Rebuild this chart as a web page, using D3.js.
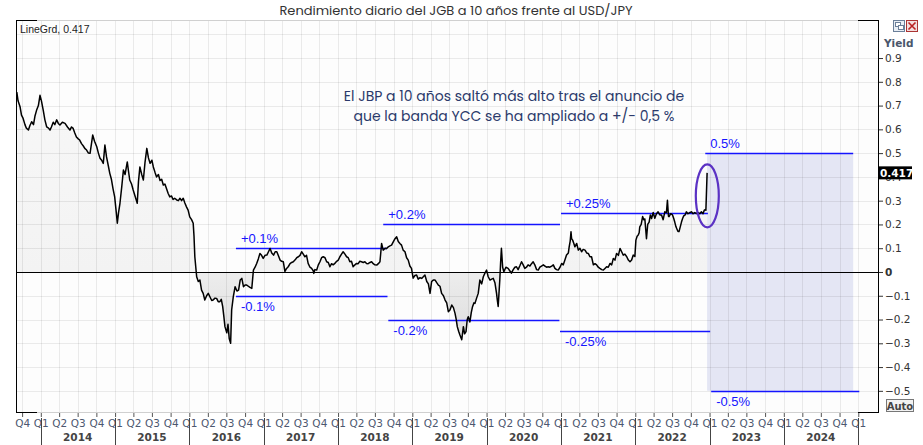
<!DOCTYPE html>
<html><head><meta charset="utf-8">
<script src="https://cdn.jsdelivr.net/npm/d3@7"></script>
<style>body{margin:0;background:#fff;}svg{display:block}</style>
</head><body><svg id="c" width="923" height="445"></svg>
<script>
// ---------------- data ----------------
const chartTitle = "Rendimiento diario del JGB a 10 años frente al USD/JPY";
const legendText = "LineGrd, 0.417";
const axisTitle = "Yield";
const noteLines = ["El JBP a 10 años saltó más alto tras el anuncio de", "que la banda YCC se ha ampliado a +/- 0,5 %"];
const yTicks = [-0.5, -0.4, -0.3, -0.2, -0.1, 0, 0.1, 0.2, 0.3, 0.4, 0.5, 0.6, 0.7, 0.8, 0.9];
const xDomain = ["2013-09-01", "2025-04-08"];
const yDomain = [-0.589, 1.06];
const lastValue = 0.417;
const yearLabels = ["2014","2015","2016","2017","2018","2019","2020","2021","2022","2023","2024"];

const jgb10y = [
["2013-09-05",0.757],["2013-09-11",0.72],["2013-09-21",0.695],["2013-09-28",0.66],["2013-10-06",0.646],["2013-10-15",0.62],["2013-10-22",0.605],["2013-11-01",0.597],["2013-11-08",0.615],["2013-11-17",0.632],["2013-11-26",0.62],["2013-12-03",0.655],["2013-12-11",0.68],["2013-12-20",0.70],["2013-12-28",0.743],
["2014-01-04",0.72],["2014-01-13",0.68],["2014-01-21",0.64],["2014-01-30",0.61],["2014-02-08",0.605],["2014-02-15",0.597],["2014-02-22",0.61],["2014-03-03",0.63],["2014-03-11",0.62],["2014-03-20",0.64],["2014-03-28",0.625],["2014-04-05",0.618],["2014-04-17",0.63],["2014-04-30",0.625],["2014-05-12",0.61],["2014-05-24",0.597],["2014-06-01",0.61],["2014-06-09",0.604],["2014-06-17",0.585],["2014-06-25",0.568],["2014-07-04",0.56],["2014-07-11",0.555],["2014-07-20",0.54],["2014-07-29",0.53],["2014-08-05",0.52],["2014-08-14",0.513],["2014-08-23",0.50],["2014-08-31",0.499],["2014-09-07",0.54],["2014-09-13",0.576],["2014-09-22",0.55],["2014-10-03",0.527],["2014-10-11",0.50],["2014-10-19",0.478],["2014-10-27",0.47],["2014-11-04",0.457],["2014-11-12",0.534],["2014-11-20",0.484],["2014-11-28",0.45],["2014-12-06",0.415],["2014-12-14",0.39],["2014-12-22",0.35],["2014-12-30",0.316],
["2015-01-07",0.25],["2015-01-12",0.205],["2015-01-18",0.25],["2015-01-25",0.289],["2015-02-03",0.36],["2015-02-11",0.429],["2015-02-19",0.41],["2015-03-02",0.463],["2015-03-07",0.43],["2015-03-14",0.387],["2015-03-23",0.37],["2015-03-31",0.345],["2015-04-09",0.32],["2015-04-20",0.289],["2015-04-26",0.38],["2015-05-03",0.442],["2015-05-12",0.41],["2015-05-20",0.387],["2015-05-28",0.46],["2015-06-06",0.52],["2015-06-14",0.48],["2015-06-22",0.457],["2015-07-01",0.47],["2015-07-08",0.442],["2015-07-16",0.42],["2015-07-24",0.40],["2015-08-02",0.41],["2015-08-10",0.385],["2015-08-18",0.39],["2015-08-26",0.366],["2015-09-03",0.37],["2015-09-11",0.35],["2015-09-19",0.33],["2015-09-27",0.316],["2015-10-05",0.32],["2015-10-13",0.305],["2015-10-21",0.31],["2015-10-31",0.303],["2015-11-08",0.30],["2015-11-16",0.31],["2015-11-24",0.30],["2015-12-02",0.31],["2015-12-10",0.29],["2015-12-18",0.274],["2015-12-26",0.26],
["2016-01-03",0.232],["2016-01-12",0.22],["2016-01-20",0.205],["2016-01-24",0.15],["2016-01-28",0.064],["2016-02-06",-0.02],["2016-02-14",-0.04],["2016-02-22",-0.034],["2016-03-01",-0.076],["2016-03-09",-0.09],["2016-03-17",-0.118],["2016-03-26",-0.10],["2016-04-03",-0.09],["2016-04-11",-0.104],["2016-04-20",-0.12],["2016-04-27",-0.118],["2016-05-06",-0.11],["2016-05-14",-0.111],["2016-05-22",-0.125],["2016-05-30",-0.125],["2016-06-06",-0.115],["2016-06-13",-0.146],["2016-06-19",-0.19],["2016-06-24",-0.23],["2016-07-03",-0.256],["2016-07-09",-0.22],["2016-07-15",-0.28],["2016-07-22",-0.30],["2016-07-27",-0.16],["2016-08-04",-0.105],["2016-08-13",-0.062],["2016-08-22",-0.08],["2016-08-30",-0.076],["2016-09-07",-0.034],["2016-09-15",-0.027],["2016-09-23",-0.062],["2016-10-01",-0.055],["2016-10-09",-0.055],["2016-10-17",-0.06],["2016-10-25",-0.065],["2016-11-03",-0.069],["2016-11-11",0.008],["2016-11-19",0.02],["2016-11-27",0.036],["2016-12-05",0.055],["2016-12-13",0.078],["2016-12-21",0.07],["2016-12-29",0.057],
["2017-01-07",0.07],["2017-01-16",0.071],["2017-01-24",0.085],["2017-02-01",0.099],["2017-02-09",0.08],["2017-02-18",0.071],["2017-02-26",0.085],["2017-03-06",0.085],["2017-03-13",0.07],["2017-03-22",0.05],["2017-03-30",0.045],["2017-04-07",0.043],["2017-04-15",0.002],["2017-04-23",0.015],["2017-05-01",0.022],["2017-05-10",0.035],["2017-05-18",0.04],["2017-05-26",0.043],["2017-06-03",0.05],["2017-06-12",0.06],["2017-06-20",0.064],["2017-06-28",0.07],["2017-07-06",0.085],["2017-07-14",0.075],["2017-07-22",0.064],["2017-07-30",0.07],["2017-08-07",0.036],["2017-08-16",0.02],["2017-08-24",0.015],["2017-09-01",0.005],["2017-09-04",-0.006],["2017-09-09",0.01],["2017-09-18",0.008],["2017-09-26",0.03],["2017-10-04",0.043],["2017-10-12",0.06],["2017-10-20",0.064],["2017-10-29",0.06],["2017-11-06",0.043],["2017-11-14",0.04],["2017-11-22",0.022],["2017-11-30",0.035],["2017-12-08",0.03],["2017-12-16",0.036],["2017-12-25",0.045],
["2018-01-02",0.05],["2018-01-10",0.064],["2018-01-18",0.075],["2018-01-26",0.085],["2018-02-04",0.075],["2018-02-12",0.064],["2018-02-20",0.06],["2018-02-28",0.043],["2018-03-08",0.045],["2018-03-16",0.022],["2018-03-25",0.03],["2018-04-02",0.036],["2018-04-10",0.035],["2018-04-18",0.045],["2018-04-26",0.043],["2018-05-05",0.04],["2018-05-13",0.043],["2018-05-21",0.036],["2018-05-29",0.035],["2018-06-07",0.04],["2018-06-15",0.043],["2018-06-23",0.035],["2018-07-01",0.03],["2018-07-10",0.029],["2018-07-18",0.035],["2018-07-26",0.043],["2018-08-03",0.12],["2018-08-11",0.092],["2018-08-20",0.10],["2018-08-28",0.099],["2018-09-05",0.106],["2018-09-13",0.11],["2018-09-21",0.113],["2018-09-30",0.128],["2018-10-08",0.14],["2018-10-16",0.148],["2018-10-24",0.128],["2018-11-01",0.12],["2018-11-09",0.113],["2018-11-17",0.092],["2018-11-26",0.085],["2018-12-04",0.06],["2018-12-12",0.05],["2018-12-20",0.025],["2018-12-28",0.015],
["2019-01-05",-0.026],["2019-01-14",-0.015],["2019-01-22",-0.013],["2019-01-30",-0.03],["2019-02-08",-0.024],["2019-02-16",-0.027],["2019-02-24",-0.02],["2019-03-04",-0.013],["2019-03-13",-0.04],["2019-03-21",-0.05],["2019-03-29",-0.09],["2019-04-06",-0.04],["2019-04-14",-0.034],["2019-04-23",-0.034],["2019-05-01",-0.045],["2019-05-09",-0.055],["2019-05-17",-0.06],["2019-05-25",-0.09],["2019-06-03",-0.10],["2019-06-11",-0.118],["2019-06-19",-0.13],["2019-06-27",-0.167],["2019-07-05",-0.16],["2019-07-14",-0.139],["2019-07-22",-0.15],["2019-07-30",-0.174],["2019-08-05",-0.20],["2019-08-10",-0.23],["2019-08-17",-0.25],["2019-08-23",-0.265],["2019-09-01",-0.285],["2019-09-09",-0.23],["2019-09-15",-0.26],["2019-09-22",-0.251],["2019-09-28",-0.20],["2019-10-03",-0.188],["2019-10-11",-0.21],["2019-10-18",-0.17],["2019-10-24",-0.146],["2019-10-31",-0.13],["2019-11-05",-0.132],["2019-11-13",-0.11],["2019-11-21",-0.09],["2019-11-29",-0.034],["2019-12-08",-0.05],["2019-12-16",-0.02],["2019-12-24",-0.005],
["2020-01-01",0.008],["2020-01-09",-0.02],["2020-01-18",-0.034],["2020-01-26",-0.03],["2020-02-03",-0.027],["2020-02-11",-0.045],["2020-02-19",-0.09],["2020-02-23",-0.12],["2020-02-27",-0.145],["2020-03-02",-0.09],["2020-03-06",-0.034],["2020-03-10",0.04],["2020-03-14",0.10],["2020-03-20",0.02],["2020-03-26",0.001],["2020-04-05",0.02],["2020-04-16",0.015],["2020-04-24",0.005],["2020-05-02",-0.005],["2020-05-11",0.01],["2020-05-19",0.02],["2020-05-27",0.022],["2020-06-04",0.01],["2020-06-12",0.025],["2020-06-21",0.043],["2020-06-29",0.03],["2020-07-07",0.015],["2020-07-15",0.02],["2020-07-23",0.03],["2020-08-01",0.025],["2020-08-09",0.035],["2020-08-17",0.043],["2020-08-25",0.03],["2020-09-03",0.01],["2020-09-11",0.008],["2020-09-19",0.02],["2020-09-27",0.025],["2020-10-06",0.03],["2020-10-14",0.025],["2020-10-22",0.02],["2020-10-30",0.022],["2020-11-07",0.02],["2020-11-16",0.025],["2020-11-24",0.03],["2020-12-02",0.015],["2020-12-10",0.01],["2020-12-18",0.008],["2020-12-27",0.02],
["2021-01-04",0.036],["2021-01-12",0.03],["2021-01-20",0.05],["2021-01-28",0.071],["2021-02-06",0.08],["2021-02-10",0.106],["2021-02-15",0.13],["2021-02-19",0.169],["2021-02-22",0.14],["2021-02-27",0.134],["2021-03-05",0.12],["2021-03-10",0.106],["2021-03-19",0.12],["2021-03-27",0.092],["2021-04-04",0.10],["2021-04-12",0.085],["2021-04-20",0.095],["2021-04-29",0.092],["2021-05-07",0.08],["2021-05-15",0.078],["2021-05-23",0.064],["2021-05-31",0.064],["2021-06-09",0.03],["2021-06-17",0.035],["2021-06-25",0.03],["2021-07-03",0.02],["2021-07-11",0.015],["2021-07-20",0.01],["2021-07-28",0.008],["2021-08-05",0.015],["2021-08-13",0.022],["2021-08-21",0.02],["2021-08-30",0.036],["2021-09-07",0.03],["2021-09-15",0.057],["2021-09-23",0.05],["2021-10-01",0.078],["2021-10-10",0.07],["2021-10-18",0.099],["2021-10-26",0.085],["2021-11-03",0.071],["2021-11-11",0.075],["2021-11-20",0.064],["2021-11-28",0.05],["2021-12-06",0.043],["2021-12-14",0.05],["2021-12-22",0.071],["2021-12-30",0.065],
["2022-01-04",0.134],["2022-01-10",0.15],["2022-01-15",0.155],["2022-01-20",0.165],["2022-01-23",0.19],["2022-01-30",0.20],["2022-02-06",0.233],["2022-02-12",0.22],["2022-02-17",0.223],["2022-02-25",0.14],["2022-03-03",0.20],["2022-03-10",0.21],["2022-03-16",0.24],["2022-03-22",0.225],["2022-03-30",0.25],["2022-04-07",0.226],["2022-04-15",0.245],["2022-04-23",0.253],["2022-05-02",0.24],["2022-05-10",0.24],["2022-05-18",0.22],["2022-05-26",0.253],["2022-06-03",0.25],["2022-06-08",0.302],["2022-06-13",0.235],["2022-06-16",0.233],["2022-06-24",0.245],["2022-07-03",0.24],["2022-07-09",0.225],["2022-07-14",0.21],["2022-07-20",0.19],["2022-07-25",0.18],["2022-07-30",0.17],["2022-08-04",0.17],["2022-08-10",0.19],["2022-08-16",0.21],["2022-08-22",0.226],["2022-08-27",0.236],["2022-09-03",0.24],["2022-09-09",0.253],["2022-09-17",0.245],["2022-09-26",0.25],["2022-10-04",0.253],["2022-10-12",0.245],["2022-10-20",0.25],["2022-10-29",0.246],["2022-11-06",0.25],["2022-11-14",0.245],["2022-11-22",0.253],["2022-11-30",0.245],["2022-12-06",0.26],["2022-12-11",0.262],["2022-12-14",0.26],["2022-12-20",0.417]
];

// YCC band reference lines
const bandLabels = ["+0.1%", "-0.1%", "+0.2%", "-0.2%", "+0.25%", "-0.25%", "0.5%", "-0.5%"];
const bandLevels = [0.1, -0.1, 0.2, -0.2, 0.25, -0.25, 0.5, -0.5];
const bandStarts = ["2016-08-17","2016-08-17","2018-08-11","2018-09-05","2021-01-01","2020-12-27","2022-12-11","2023-01-09"];
const bandEnds   = ["2018-08-29","2018-09-01","2020-12-27","2020-12-24","2022-12-24","2023-01-04","2024-12-07","2025-01-06"];
// new band shading
const newBandRange = ["2022-12-20", "2024-12-07"];
const newBandLevels = [-0.5, 0.5];
// highlight ellipse
const ellipseCenter = ["2022-12-21", 0.32];

// ---------------- drawing ----------------
const parse = d3.timeParse("%Y-%m-%d");
const L = 16, R = 878, T = 20, B = 412;
const svg = d3.select("#c");
const x = d3.scaleTime().domain(xDomain.map(parse)).range([L, R]);
const y = d3.scaleLinear().domain(yDomain).range([B, T]);
const data = jgb10y.map(d => ({date: parse(d[0]), v: d[1]}));

const blue = "#1414ff";
const defs = svg.append("defs");
const grad = defs.append("linearGradient").attr("id", "fillg")
  .attr("gradientUnits", "userSpaceOnUse").attr("x1", 0).attr("x2", 0)
  .attr("y1", y(0.9)).attr("y2", y(-0.3));
const z = (y(0) - y(0.9)) / (y(-0.3) - y(0.9));
grad.append("stop").attr("offset", 0).attr("stop-color", "#f8f8f8");
grad.append("stop").attr("offset", z).attr("stop-color", "#f3f3f3");
grad.append("stop").attr("offset", z).attr("stop-color", "#ededed");
grad.append("stop").attr("offset", 1).attr("stop-color", "#dddddd");
defs.append("clipPath").attr("id", "plotclip").append("rect")
  .attr("x", L).attr("y", T).attr("width", R - L).attr("height", B - T);

svg.append("rect").attr("width", 923).attr("height", 445).attr("fill", "#fff");
svg.append("rect").attr("x", L).attr("y", T).attr("width", R - L).attr("height", B - T).attr("fill", "#fdfdfd");

// title
svg.append("text").attr("x", 456).attr("y", 15).attr("text-anchor", "middle")
  .attr("font-family", "Poppins, 'Noto Sans', sans-serif").attr("font-size", 13).attr("fill", "#333")
  .text(chartTitle);

// new band rect
svg.append("rect")
  .attr("x", x(parse(newBandRange[0]))).attr("width", x(parse(newBandRange[1])) - x(parse(newBandRange[0])))
  .attr("y", y(newBandLevels[1])).attr("height", y(newBandLevels[0]) - y(newBandLevels[1]))
  .attr("fill", "#e4e6f4");

const plot = svg.append("g").attr("clip-path", "url(#plotclip)");

// area fill
plot.append("path").datum(data)
  .attr("d", d3.area().x(d => x(d.date)).y0(y(0)).y1(d => y(d.v)))
  .attr("fill", "url(#fillg)");

// grid
const quarterTicks = d3.timeMonth.every(3).range(parse("2013-10-01"), parse("2025-01-02"));
plot.append("g").selectAll("line").data(quarterTicks).join("line")
  .attr("x1", d => Math.round(x(d)) + 0.5).attr("x2", d => Math.round(x(d)) + 0.5)
  .attr("y1", T).attr("y2", B).attr("stroke", "rgba(0,0,0,0.075)");
const gridY = d3.range(-5, 11).map(i => i / 10);
plot.append("g").selectAll("line").data(gridY).join("line")
  .attr("x1", L).attr("x2", R)
  .attr("y1", d => Math.round(y(d)) + 0.5).attr("y2", d => Math.round(y(d)) + 0.5)
  .attr("stroke", "rgba(0,0,0,0.075)");

// zero line
plot.append("line").attr("x1", L).attr("x2", R)
  .attr("y1", Math.round(y(0)) + 0.5).attr("y2", Math.round(y(0)) + 0.5).attr("stroke", "#000");

// band lines + labels
const bands = bandLabels.map((lab, i) => ({lab, v: bandLevels[i], s: parse(bandStarts[i]), e: parse(bandEnds[i])}));
plot.append("g").selectAll("line").data(bands).join("line")
  .attr("x1", d => x(d.s)).attr("x2", d => x(d.e))
  .attr("y1", d => Math.round(y(d.v)) + 0.5).attr("y2", d => Math.round(y(d.v)) + 0.5)
  .attr("stroke", blue).attr("stroke-width", 1.5);
svg.append("g").selectAll("text").data(bands).join("text")
  .attr("x", d => x(d.s) + 5)
  .attr("y", d => d.v > 0 ? y(d.v) - 5 : y(d.v) + 15)
  .attr("font-family", "'Liberation Sans', Arial, sans-serif").attr("font-size", 13)
  .attr("fill", blue).text(d => d.lab);

// yield line
plot.append("path").datum(data)
  .attr("d", d3.line().x(d => x(d.date)).y(d => y(d.v)))
  .attr("fill", "none").attr("stroke", "#000").attr("stroke-width", 1.5).attr("stroke-linejoin", "round");

// ellipse
svg.append("ellipse").attr("cx", x(parse(ellipseCenter[0]))).attr("cy", y(ellipseCenter[1]))
  .attr("rx", 11.5).attr("ry", 31.5).attr("fill", "none").attr("stroke", "#5b32c4").attr("stroke-width", 2.2);

// note text
svg.append("g").selectAll("text").data(noteLines).join("text")
  .attr("x", 514).attr("y", (d, i) => 101 + i * 19.5).attr("text-anchor", "middle")
  .attr("font-family", "Poppins, 'Open Sans', sans-serif").attr("font-size", 14).attr("fill", "#2b3a6b")
  .text(d => d);

// legend
svg.append("text").attr("x", 20).attr("y", 33)
  .attr("font-family", "'Liberation Sans', Arial, sans-serif").attr("font-size", 10.5).attr("fill", "#222")
  .text(legendText);

// right axis
const yAxis = svg.append("g").attr("transform", `translate(${R},0)`)
  .call(d3.axisRight(y).tickValues(yTicks).tickSize(5).tickSizeOuter(0).tickPadding(2)
    .tickFormat(d => d === 0 ? "0" : d3.format(".1f")(d)));
yAxis.select(".domain").remove();
yAxis.selectAll(".tick line").attr("stroke", "#333");
yAxis.selectAll(".tick text").attr("font-family", "'DejaVu Sans', Verdana, sans-serif").attr("font-size", 10.5)
  .attr("fill", "#333").attr("font-weight", d => d === 0 ? "bold" : "normal");

// axis title and icons
svg.append("text").attr("x", 884).attr("y", 47).attr("font-family", "'DejaVu Sans', Verdana, sans-serif")
  .attr("font-size", 10.5).attr("font-weight", "bold").attr("fill", "#4a566b").text(axisTitle);
const ic = svg.append("g");
ic.append("rect").attr("x", 893.5).attr("y", 20.5).attr("width", 11).attr("height", 11).attr("fill", "#e8eef5").attr("stroke", "#6b7f99");
ic.append("rect").attr("x", 895.5).attr("y", 22.5).attr("width", 5).attr("height", 4).attr("fill", "#fff").attr("stroke", "#6b7f99");
ic.append("rect").attr("x", 898.5).attr("y", 25.5).attr("width", 5).attr("height", 4).attr("fill", "#fff").attr("stroke", "#6b7f99");
ic.append("rect").attr("x", 906.5).attr("y", 20.5).attr("width", 11).attr("height", 11).attr("fill", "#f3dede").attr("stroke", "#a33");
ic.append("path").attr("d", "M908.5,22.5L915.5,29.5M915.5,22.5L908.5,29.5").attr("stroke", "#b22").attr("stroke-width", 1.6);

// last value tag (covers the 0.4 tick label as in the original)
svg.append("rect").attr("x", R).attr("y", y(lastValue) - 6.5).attr("width", 34).attr("height", 13).attr("fill", "#000");
svg.append("text").attr("x", R + 2).attr("y", y(lastValue) + 4.3).attr("font-family", "'DejaVu Sans', Verdana, sans-serif")
  .attr("font-size", 10.5).attr("font-weight", "bold").attr("fill", "#fff").text(d3.format(".3f")(lastValue));

// Auto button
svg.append("rect").attr("x", 886.5).attr("y", 399.5).attr("width", 27).attr("height", 12).attr("fill", "#f2f2f2").attr("stroke", "#777");
svg.append("text").attr("x", 900).attr("y", 409.5).attr("text-anchor", "middle").attr("font-family", "'DejaVu Sans', Verdana, sans-serif")
  .attr("font-size", 10).attr("font-weight", "bold").attr("fill", "#444").text("Auto");

// frame
const fr = svg.append("g");
fr.append("line").attr("x1", L).attr("x2", R).attr("y1", T + 0.5).attr("y2", T + 0.5).attr("stroke", "#d0d0d0");
fr.append("line").attr("x1", L).attr("x2", R).attr("y1", B + 0.5).attr("y2", B + 0.5).attr("stroke", "#d0d0d0");
fr.append("line").attr("x1", L + 0.5).attr("x2", L + 0.5).attr("y1", T).attr("y2", B + 1).attr("stroke", "#000");
fr.append("line").attr("x1", R + 0.5).attr("x2", R + 0.5).attr("y1", T).attr("y2", B + 1).attr("stroke", "#000");
fr.append("path").attr("d", `M${L},${B + 0.5}H${L + 21}M${R - 20},${B + 0.5}H${R + 1}M${L},${T + 0.5}H${L + 21}M${R - 20},${T + 0.5}H${R + 1}`)
  .attr("stroke", "#000");

// bottom axis: quarters
const qAxis = svg.append("g").attr("transform", `translate(0,${B + 1})`)
  .call(d3.axisBottom(x).tickValues(quarterTicks).tickSize(4).tickSizeOuter(0)
    .tickFormat(d => "Q" + (Math.floor(d.getMonth() / 3) + 1)));
qAxis.select(".domain").remove();
qAxis.selectAll(".tick line").attr("stroke", "#555");
qAxis.selectAll(".tick text").attr("y", 7).attr("font-family", "'DejaVu Sans', Verdana, sans-serif")
  .attr("font-size", 10.5).attr("fill", "#4d5870");

// bottom axis: years
const yearStarts = d3.timeYear.range(parse("2014-01-01"), parse("2025-01-02"));
svg.append("g").selectAll("line").data(yearStarts).join("line")
  .attr("x1", d => Math.round(x(d)) + 0.5).attr("x2", d => Math.round(x(d)) + 0.5)
  .attr("y1", 418).attr("y2", 445).attr("stroke", "#444");
svg.append("g").selectAll("text").data(yearLabels).join("text")
  .attr("x", d => x(d3.timeMonth.offset(parse(d + "-01-01"), 6)))
  .attr("y", 441).attr("text-anchor", "middle")
  .attr("font-family", "'DejaVu Sans', Verdana, sans-serif").attr("font-size", 10.5).attr("font-weight", "bold")
  .attr("fill", "#444").text(d => d);
</script></body></html>
